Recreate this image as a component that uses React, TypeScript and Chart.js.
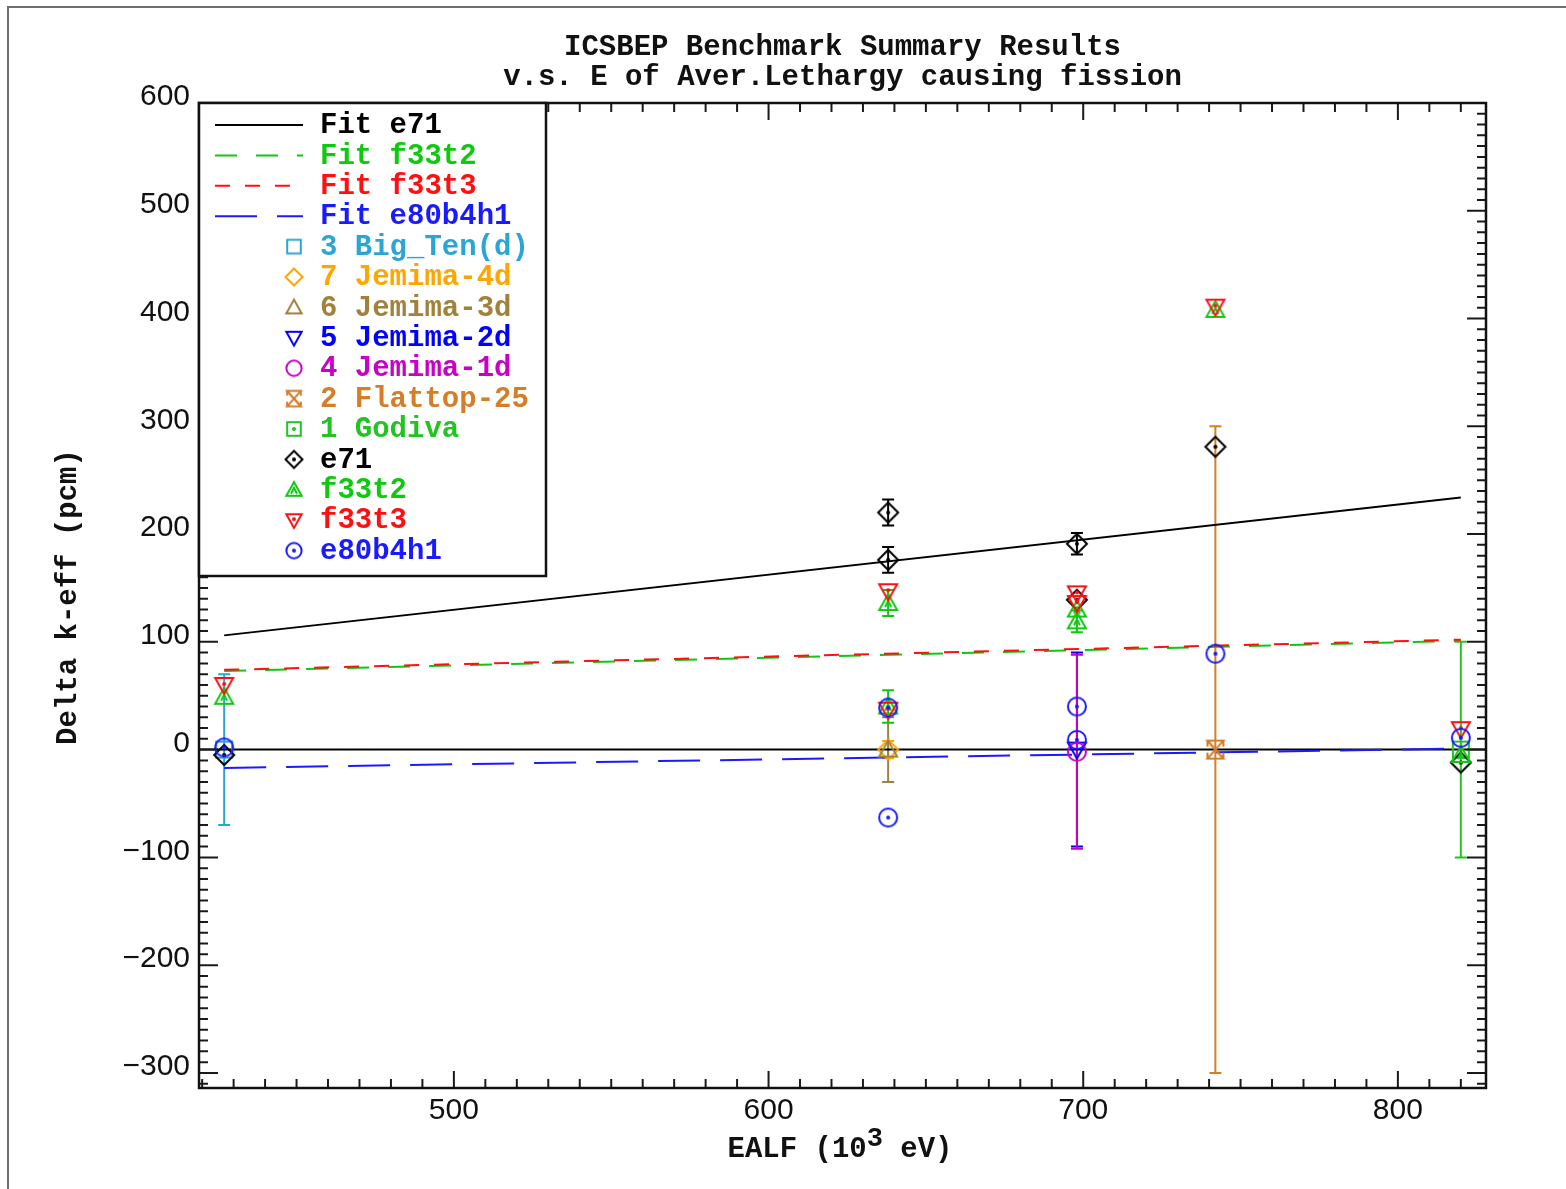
import React, { useEffect, useRef } from 'react';
import { Chart, registerables } from 'chart.js';

Chart.register(...registerables);

// ---------- axis ranges and tick labels ----------
const X_MIN = 419;
const X_MAX = 828;
const Y_MIN = -314;
const Y_MAX = 600;
const xTickLabels = [500, 600, 700, 800];
const yTickLabels = [-300, -200, -100, 0, 100, 200, 300, 400, 500, 600];

const titleLines = ['ICSBEP Benchmark Summary Results', 'v.s. E of Aver.Lethargy causing fission'];
const yAxisTitle = 'Delta k-eff (pcm)';

// ---------- benchmark experiments (value 0, with uncertainty) ----------
const bigTenX = [427];
const bigTenY = [0];
const bigTenErr = [70];

const jemima4dX = [638];
const jemima4dY = [0];
const jemima4dErr = [8];

const jemima3dX = [638];
const jemima3dY = [0];
const jemima3dErr = [30];

const jemima2dX = [698];
const jemima2dY = [0];
const jemima2dErr = [90];

const jemima1dX = [698];
const jemima1dY = [-2];
const jemima1dErr = [90];

const flattopX = [742];
const flattopY = [0];
const flattopErr = [300];

const godivaX = [820];
const godivaY = [0];
const godivaErr = [100];

// ---------- calculated results ----------
const calcX = [427, 638, 638, 698, 698, 742, 820];
const e71Y = [-5, 220, 176, 191, 139, 281, -12];
const e71Err = [0, 12, 12, 10, 0, 0, 0];
const f33t2Y = [49, 136, 40, 130, 119, 408, -5];
const f33t2Err = [0, 12, 15, 0, 10, 0, 0];
const f33t3Y = [60, 147, 37, 145, 136, 411, 19];
const f33t3Err = [0, 0, 0, 0, 0, 0, 0];
const e80b4h1Y = [2, 39, -63, 40, 9, 89, 11];
const e80b4h1Err = [0, 0, 0, 0, 0, 0, 0];

// ---------- linear fits ----------
const fitX = [427, 820];
const fitE71 = [106, 234];
const fitF33t2 = [73, 101];
const fitF33t3 = [74, 102];
const fitE80b4h1 = [-17, 1];

const zeroLineX = [X_MIN, X_MAX];
const zeroLineY = [0, 0];

// ---------- colours ----------
const C = {
  bigTen: '#2aa6d6',
  jemima4d: '#ffa500',
  jemima3d: '#a0823c',
  jemima2d: '#0000ff',
  jemima1d: '#c800c8',
  flattop: '#d67d27',
  godiva: '#22c322',
  e71: '#000000',
  f33t2: '#10c810',
  f33t3: '#ff1010',
  e80b4h1: '#1a1aff',
};

const MONO = '"Liberation Mono", "DejaVu Sans Mono", monospace';
const SANS = '"Liberation Sans", Arial, sans-serif';

function makeMarker(kind: string, color: string, scale = 1): HTMLCanvasElement {
  const s = 28;
  const c = document.createElement('canvas');
  c.width = s;
  c.height = s;
  const g = c.getContext('2d')!;
  g.strokeStyle = color;
  g.fillStyle = color;
  g.lineWidth = 2;
  g.lineJoin = 'miter';
  const m = s / 2;
  const k = scale;
  const dot = () => {
    g.beginPath();
    g.arc(m, m, 2, 0, Math.PI * 2);
    g.fill();
  };
  const triUp = () => {
    g.beginPath();
    g.moveTo(m, m - 9 * k);
    g.lineTo(m + 9 * k, m + 7 * k);
    g.lineTo(m - 9 * k, m + 7 * k);
    g.closePath();
    g.stroke();
  };
  const triDown = () => {
    g.beginPath();
    g.moveTo(m - 9 * k, m - 7 * k);
    g.lineTo(m + 9 * k, m - 7 * k);
    g.lineTo(m, m + 9 * k);
    g.closePath();
    g.stroke();
  };
  switch (kind) {
    case 'square':
    case 'squareDot':
      g.strokeRect(m - 8 * k, m - 8 * k, 16 * k, 16 * k);
      if (kind === 'squareDot') dot();
      break;
    case 'diamond':
    case 'diamondDot':
      g.beginPath();
      g.moveTo(m, m - 10 * k);
      g.lineTo(m + 10 * k, m);
      g.lineTo(m, m + 10 * k);
      g.lineTo(m - 10 * k, m);
      g.closePath();
      g.stroke();
      if (kind === 'diamondDot') dot();
      break;
    case 'triUp':
      triUp();
      break;
    case 'triUpDot':
      triUp();
      g.beginPath();
      g.moveTo(m - 3, m + 4);
      g.lineTo(m, m - 2);
      g.lineTo(m + 3, m + 4);
      g.stroke();
      break;
    case 'triDown':
      triDown();
      break;
    case 'triDownDot':
      triDown();
      g.beginPath();
      g.arc(m, m - 1, 2, 0, Math.PI * 2);
      g.fill();
      break;
    case 'circle':
    case 'circleDot':
      g.beginPath();
      g.arc(m, m, 9 * k, 0, Math.PI * 2);
      g.stroke();
      if (kind === 'circleDot') dot();
      break;
    case 'hourglass': {
      const a = 8 * k;
      const b = 9 * k;
      g.beginPath();
      g.moveTo(m - a, m - b);
      g.lineTo(m + a, m - b);
      g.lineTo(m - a, m + b);
      g.lineTo(m + a, m + b);
      g.closePath();
      g.stroke();
      g.beginPath();
      g.moveTo(m - a, m - b);
      g.lineTo(m + a, m + b);
      g.moveTo(m - a, m + b);
      g.lineTo(m - a, m + 3);
      g.moveTo(m + a, m + b);
      g.lineTo(m + a, m + 3);
      g.moveTo(m - a, m - b);
      g.lineTo(m - a, m - 3);
      g.moveTo(m + a, m - b);
      g.lineTo(m + a, m - 3);
      g.stroke();
      break;
    }
  }
  return c;
}

const pts = (xs: number[], ys: number[]) => xs.map((x, i) => ({ x, y: ys[i] }));

export default function App() {
  const ref = useRef<HTMLCanvasElement | null>(null);

  useEffect(() => {
    if (!ref.current) return;

    const mk = {
      bigTen: makeMarker('square', C.bigTen),
      jemima4d: makeMarker('diamond', C.jemima4d),
      jemima3d: makeMarker('triUp', C.jemima3d),
      jemima2d: makeMarker('triDown', C.jemima2d),
      jemima1d: makeMarker('circle', C.jemima1d),
      flattop: makeMarker('hourglass', C.flattop),
      godiva: makeMarker('squareDot', C.godiva),
      e71: makeMarker('diamondDot', C.e71),
      f33t2: makeMarker('triUpDot', C.f33t2),
      f33t3: makeMarker('triDownDot', C.f33t3),
      e80b4h1: makeMarker('circleDot', C.e80b4h1),
    };
    const lk = 0.85;
    const legendMk = {
      bigTen: makeMarker('square', C.bigTen, lk),
      jemima4d: makeMarker('diamond', C.jemima4d, lk),
      jemima3d: makeMarker('triUp', C.jemima3d, lk),
      jemima2d: makeMarker('triDown', C.jemima2d, lk),
      jemima1d: makeMarker('circle', C.jemima1d, lk),
      flattop: makeMarker('hourglass', C.flattop, lk),
      godiva: makeMarker('squareDot', C.godiva, lk),
      e71: makeMarker('diamondDot', C.e71, lk),
      f33t2: makeMarker('triUpDot', C.f33t2, lk),
      f33t3: makeMarker('triDownDot', C.f33t3, lk),
      e80b4h1: makeMarker('circleDot', C.e80b4h1, lk),
    };

    const pointSet = (label: string, xs: number[], ys: number[], errs: number[], color: string, marker: HTMLCanvasElement, order: number) => ({
      label,
      data: pts(xs, ys),
      errorBars: errs,
      borderColor: color,
      backgroundColor: color,
      pointStyle: marker,
      pointRadius: 5,
      showLine: false,
      order,
    });

    const lineSet = (label: string, xs: number[], ys: number[], color: string, dash: number[], order: number) => ({
      label,
      data: pts(xs, ys),
      borderColor: color,
      backgroundColor: color,
      borderWidth: 2,
      borderDash: dash,
      pointRadius: 0,
      showLine: true,
      order,
    });

    const dashes = {
      e71: [] as number[],
      f33t2: [22, 19],
      f33t3: [15, 15],
      e80b4h1: [42, 20],
    };

    const legendItems = [
      { text: 'Fit e71', color: C.e71, dash: dashes.e71 },
      { text: 'Fit f33t2', color: C.f33t2, dash: dashes.f33t2 },
      { text: 'Fit f33t3', color: C.f33t3, dash: dashes.f33t3 },
      { text: 'Fit e80b4h1', color: C.e80b4h1, dash: dashes.e80b4h1 },
      { text: '3 Big_Ten(d)', color: C.bigTen, marker: legendMk.bigTen },
      { text: '7 Jemima-4d', color: C.jemima4d, marker: legendMk.jemima4d },
      { text: '6 Jemima-3d', color: C.jemima3d, marker: legendMk.jemima3d },
      { text: '5 Jemima-2d', color: C.jemima2d, marker: legendMk.jemima2d },
      { text: '4 Jemima-1d', color: C.jemima1d, marker: legendMk.jemima1d },
      { text: '2 Flattop-25', color: C.flattop, marker: legendMk.flattop },
      { text: '1 Godiva', color: C.godiva, marker: legendMk.godiva },
      { text: 'e71', color: C.e71, marker: legendMk.e71 },
      { text: 'f33t2', color: C.f33t2, marker: legendMk.f33t2 },
      { text: 'f33t3', color: C.f33t3, marker: legendMk.f33t3 },
      { text: 'e80b4h1', color: C.e80b4h1, marker: legendMk.e80b4h1 },
    ];

    const fmt = (v: number) => (v < 0 ? '\u2212' + Math.abs(v) : String(v));

    const decor = {
      id: 'decor',
      beforeDraw(chart: any) {
        const ctx = chart.ctx;
        ctx.save();
        ctx.fillStyle = '#ffffff';
        ctx.fillRect(0, 0, chart.width, chart.height);
        ctx.strokeStyle = '#6e6e6e';
        ctx.lineWidth = 2;
        ctx.beginPath();
        ctx.moveTo(8, chart.height);
        ctx.lineTo(8, 7);
        ctx.lineTo(chart.width, 7);
        ctx.stroke();
        ctx.restore();
      },
      beforeDatasetsDraw(chart: any) {
        const ctx = chart.ctx;
        const ys = chart.scales.y;
        ctx.save();
        ctx.lineWidth = 2;
        const metas = chart.getSortedVisibleDatasetMetas().slice().reverse();
        metas.forEach((meta: any) => {
          const ds = chart.data.datasets[meta.index];
          const errs: number[] | undefined = ds.errorBars;
          if (!errs) return;
          ctx.strokeStyle = ds.borderColor;
          meta.data.forEach((el: any, i: number) => {
            const e = errs[i];
            if (!e) return;
            const v = ds.data[i].y;
            const top = ys.getPixelForValue(v + e);
            const bot = ys.getPixelForValue(v - e);
            ctx.beginPath();
            ctx.moveTo(el.x, top);
            ctx.lineTo(el.x, bot);
            ctx.moveTo(el.x - 6, top);
            ctx.lineTo(el.x + 6, top);
            ctx.moveTo(el.x - 6, bot);
            ctx.lineTo(el.x + 6, bot);
            ctx.stroke();
          });
        });
        ctx.restore();
      },
      afterDraw(chart: any) {
        const ctx = chart.ctx;
        const a = chart.chartArea;
        const xs = chart.scales.x;
        const ys = chart.scales.y;
        ctx.save();

        // ticks (inward, all four sides)
        ctx.strokeStyle = '#1a1a1a';
        ctx.lineWidth = 2;
        ctx.beginPath();
        for (let v = Math.ceil(X_MIN / 10) * 10; v <= X_MAX; v += 10) {
          const px = xs.getPixelForValue(v);
          const len = v % 100 === 0 ? 17 : 9;
          ctx.moveTo(px, a.bottom);
          ctx.lineTo(px, a.bottom - len);
          ctx.moveTo(px, a.top);
          ctx.lineTo(px, a.top + len);
        }
        for (let v = Math.ceil(Y_MIN / 10) * 10; v <= Y_MAX; v += 10) {
          const py = ys.getPixelForValue(v);
          const len = v % 100 === 0 ? 19 : 9;
          ctx.moveTo(a.left, py);
          ctx.lineTo(a.left + len, py);
          ctx.moveTo(a.right, py);
          ctx.lineTo(a.right - len, py);
        }
        ctx.stroke();

        // frame
        ctx.lineWidth = 2.5;
        ctx.strokeStyle = '#111';
        ctx.strokeRect(a.left, a.top, a.right - a.left, a.bottom - a.top);

        // tick labels
        ctx.fillStyle = '#111';
        ctx.font = `30px ${SANS}`;
        ctx.textAlign = 'center';
        ctx.textBaseline = 'middle';
        xTickLabels.forEach((v) => {
          ctx.fillText(fmt(v), xs.getPixelForValue(v), a.bottom + 23);
        });
        ctx.textAlign = 'right';
        yTickLabels.forEach((v) => {
          ctx.fillText(fmt(v), a.left - 9, ys.getPixelForValue(v) - 6);
        });

        // titles
        const cx = (a.left + a.right) / 2;
        ctx.font = `bold 29px ${MONO}`;
        ctx.textAlign = 'center';
        ctx.fillText(titleLines[0], cx, 48);
        ctx.fillText(titleLines[1], cx, 78);

        // x axis title with superscript
        const p1 = 'EALF (10';
        const sup = '3';
        const p2 = ' eV)';
        ctx.font = `bold 29px ${MONO}`;
        const w1 = ctx.measureText(p1).width;
        const w3 = ctx.measureText(p2).width;
        ctx.font = `bold 27px ${MONO}`;
        const w2 = ctx.measureText(sup).width;
        const tw = w1 + w2 + w3;
        let sx = 840 - tw / 2;
        const by = 1150;
        ctx.textAlign = 'left';
        ctx.font = `bold 29px ${MONO}`;
        ctx.fillText(p1, sx, by);
        sx += w1;
        ctx.font = `bold 27px ${MONO}`;
        ctx.fillText(sup, sx, by - 11);
        sx += w2;
        ctx.font = `bold 29px ${MONO}`;
        ctx.fillText(p2, sx, by);

        // y axis title
        ctx.save();
        ctx.translate(69, 597);
        ctx.rotate(-Math.PI / 2);
        ctx.textAlign = 'center';
        ctx.fillText(yAxisTitle, 0, 0);
        ctx.restore();

        // legend box
        const lx = a.left;
        const ly = a.top;
        const lw = 347;
        const lh = 473;
        ctx.fillStyle = '#fff';
        ctx.fillRect(lx, ly, lw, lh);
        ctx.strokeStyle = '#111';
        ctx.lineWidth = 2.5;
        ctx.strokeRect(lx, ly, lw, lh);
        ctx.font = `bold 29px ${MONO}`;
        ctx.textAlign = 'left';
        ctx.textBaseline = 'middle';
        legendItems.forEach((it: any, i: number) => {
          const y = 125 + i * 30.4;
          if (it.marker) {
            const m = it.marker as HTMLCanvasElement;
            ctx.drawImage(m, 294 - m.width / 2, y - m.height / 2);
          } else {
            ctx.strokeStyle = it.color;
            ctx.lineWidth = 2;
            ctx.setLineDash(it.dash);
            ctx.beginPath();
            ctx.moveTo(215, y);
            ctx.lineTo(303, y);
            ctx.stroke();
            ctx.setLineDash([]);
          }
          ctx.fillStyle = it.color;
          ctx.fillText(it.text, 320, y + 1);
        });

        ctx.restore();
      },
    };

    const chart = new Chart(ref.current, {
      type: 'scatter',
      data: {
        datasets: [
          pointSet('e80b4h1', calcX, e80b4h1Y, e80b4h1Err, C.e80b4h1, mk.e80b4h1, 0),
          pointSet('f33t3', calcX, f33t3Y, f33t3Err, C.f33t3, mk.f33t3, 1),
          pointSet('f33t2', calcX, f33t2Y, f33t2Err, C.f33t2, mk.f33t2, 2),
          pointSet('e71', calcX, e71Y, e71Err, C.e71, mk.e71, 3),
          pointSet('1 Godiva', godivaX, godivaY, godivaErr, C.godiva, mk.godiva, 4),
          pointSet('2 Flattop-25', flattopX, flattopY, flattopErr, C.flattop, mk.flattop, 5),
          pointSet('4 Jemima-1d', jemima1dX, jemima1dY, jemima1dErr, C.jemima1d, mk.jemima1d, 6),
          pointSet('5 Jemima-2d', jemima2dX, jemima2dY, jemima2dErr, C.jemima2d, mk.jemima2d, 7),
          pointSet('6 Jemima-3d', jemima3dX, jemima3dY, jemima3dErr, C.jemima3d, mk.jemima3d, 8),
          pointSet('7 Jemima-4d', jemima4dX, jemima4dY, jemima4dErr, C.jemima4d, mk.jemima4d, 9),
          pointSet('3 Big_Ten(d)', bigTenX, bigTenY, bigTenErr, C.bigTen, mk.bigTen, 10),
          lineSet('Fit e80b4h1', fitX, fitE80b4h1, C.e80b4h1, dashes.e80b4h1, 11),
          lineSet('Fit f33t3', fitX, fitF33t3, C.f33t3, dashes.f33t3, 12),
          lineSet('Fit f33t2', fitX, fitF33t2, C.f33t2, dashes.f33t2, 13),
          lineSet('Fit e71', fitX, fitE71, C.e71, dashes.e71, 14),
          lineSet('zero', zeroLineX, zeroLineY, '#000000', [], 15),
        ] as any,
      },
      options: {
        animation: false,
        responsive: false,
        devicePixelRatio: 1,
        layout: { padding: { top: 103, right: 80, bottom: 0, left: 0 } },
        plugins: {
          legend: { display: false },
          title: { display: false },
          tooltip: { enabled: false },
        },
        scales: {
          x: {
            type: 'linear',
            min: X_MIN,
            max: X_MAX,
            grid: { display: false },
            border: { display: false },
            ticks: { display: false },
            afterFit: (s: any) => {
              s.height = 101;
            },
          },
          y: {
            type: 'linear',
            min: Y_MIN,
            max: Y_MAX,
            grid: { display: false },
            border: { display: false },
            ticks: { display: false },
            afterFit: (s: any) => {
              s.width = 199;
            },
          },
        },
      } as any,
      plugins: [decor],
    });

    return () => chart.destroy();
  }, []);

  return (
    <canvas
      ref={ref}
      width={1566}
      height={1189}
      style={{ position: 'absolute', left: 0, top: 0, width: 1566, height: 1189 }}
    />
  );
}
